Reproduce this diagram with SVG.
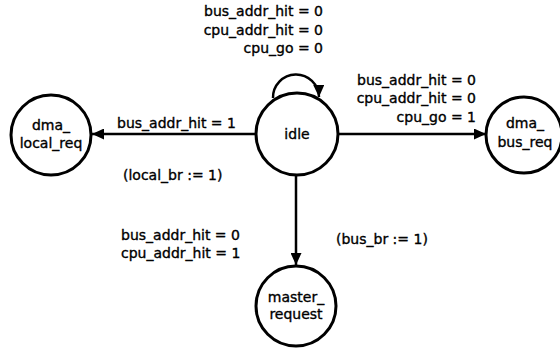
<svg xmlns="http://www.w3.org/2000/svg" width="560" height="349" viewBox="0 0 560 349">
<style>
text{font-family:"DejaVu Sans","Liberation Sans",sans-serif;font-size:14px;fill:#000;stroke:#000;stroke-width:0.35;}
.node circle{fill:#fff;stroke:#000;stroke-width:3;}
.node text{text-anchor:middle;}
.edge{fill:none;stroke:#000;stroke-width:2.5;marker-end:url(#arr);}
.r{text-anchor:end;}
</style>
<defs>
<marker id="arr" markerUnits="userSpaceOnUse" markerWidth="13" markerHeight="11" refX="12" refY="5.5" orient="auto">
<path d="M0,0 L12,5.5 L0,11 z" fill="#000"/>
</marker>
</defs>
<rect width="560" height="349" fill="#fff"/>
<g id="connectors">
<path class="edge" d="M273,98 A23,23 0 1 1 319,97"/>
<line class="edge" x1="256" y1="134" x2="92" y2="134"/>
<line class="edge" x1="338" y1="134" x2="486" y2="134"/>
<line class="edge" x1="296" y1="175" x2="296" y2="265"/>
</g>
<g id="labels">
<text class="r" x="323" y="16">bus_addr_hit = 0</text>
<text class="r" x="323" y="35">cpu_addr_hit = 0</text>
<text class="r" x="323" y="53">cpu_go = 0</text>
<text class="r" x="476" y="85">bus_addr_hit = 0</text>
<text class="r" x="476" y="103">cpu_addr_hit = 0</text>
<text class="r" x="476" y="122">cpu_go = 1</text>
<text x="117" y="128">bus_addr_hit = 1</text>
<text x="123" y="180">(local_br := 1)</text>
<text x="121" y="240">bus_addr_hit = 0</text>
<text x="121" y="258">cpu_addr_hit = 1</text>
<text x="336" y="244">(bus_br := 1)</text>
</g>
<g id="idle" class="node">
<circle cx="297" cy="134" r="41"/>
<text x="297" y="139">idle</text>
</g>
<g id="dma_local_req" class="node">
<circle cx="51" cy="135" r="40"/>
<text x="51" y="130">dma_</text>
<text x="51" y="148">local_req</text>
</g>
<g id="dma_bus_req" class="node">
<circle cx="524" cy="135" r="38"/>
<text x="525" y="128">dma_</text>
<text x="525" y="147">bus_req</text>
</g>
<g id="master_request" class="node">
<circle cx="296" cy="306" r="40"/>
<text x="296" y="302">master_</text>
<text x="296" y="319">request</text>
</g>
</svg>
